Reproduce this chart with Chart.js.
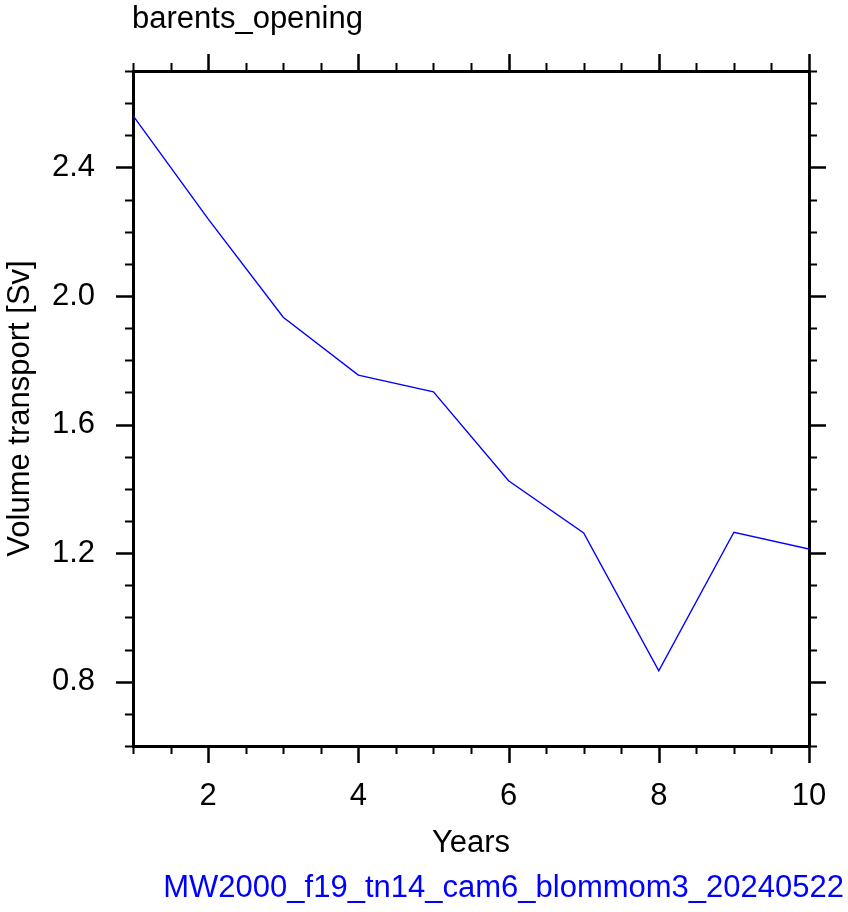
<!DOCTYPE html>
<html>
<head>
<meta charset="utf-8">
<script src="https://cdn.jsdelivr.net/npm/chart.js@4"></script>
<style>
html, body { margin: 0; padding: 0; background: #fff; }
</style>
</head>
<body>
<canvas id="chart" width="848" height="912"></canvas>
<script>
// data
const years = [1, 2, 3, 4, 5, 6, 7, 8, 9, 10];
const transport = [2.561, 2.24, 1.934, 1.754, 1.702, 1.425, 1.263, 0.834, 1.265, 1.213];

const xLabelTicks = [2, 4, 6, 8, 10];
const yLabelTicks = [0.8, 1.2, 1.6, 2.0, 2.4];
const xRange = [1, 10];
const yRange = [0.6, 2.7];
const xMinorStep = 0.5;
const yMinorStep = 0.1;

const titleText = 'barents_opening';
const caseText = 'MW2000_f19_tn14_cam6_blommom3_20240522';
const xTitle = 'Years';
const yTitle = 'Volume transport [Sv]';

const FONT = "'Liberation Sans', Arial, Helvetica, sans-serif";
const FSIZE = 31;

function steps(from, to, step) {
    const out = [];
    const n = Math.round((to - from) / step);
    for (let i = 0; i <= n; i++) out.push(+(from + i * step).toFixed(3));
    return out;
}

// outward tick marks on all four sides, placed through the scales
const tickMarks = {
    id: 'tickMarks',
    afterDraw(chart) {
        const ctx = chart.ctx;
        const { left, right, top, bottom } = chart.chartArea;
        const xs = chart.scales.x;
        const ys = chart.scales.y;
        ctx.save();
        ctx.strokeStyle = '#000';

        const drawX = (vals, len, w) => {
            ctx.lineWidth = w;
            vals.forEach(v => {
                const px = Math.round(xs.getPixelForValue(v)) + 0.5;
                ctx.beginPath();
                ctx.moveTo(px, bottom); ctx.lineTo(px, bottom + len);
                ctx.moveTo(px, top); ctx.lineTo(px, top - len);
                ctx.stroke();
            });
        };
        const drawY = (vals, len, w) => {
            ctx.lineWidth = w;
            vals.forEach(v => {
                const py = Math.round(ys.getPixelForValue(v)) + 0.5;
                ctx.beginPath();
                ctx.moveTo(left, py); ctx.lineTo(left - len, py);
                ctx.moveTo(right, py); ctx.lineTo(right + len, py);
                ctx.stroke();
            });
        };

        const xMinor = steps(xRange[0], xRange[1], xMinorStep).filter(v => !xLabelTicks.includes(v));
        const yMinor = steps(yRange[0], yRange[1], yMinorStep).filter(v => !yLabelTicks.some(m => Math.abs(m - v) < 1e-6));
        drawX(xMinor, 8, 2);
        drawX(xLabelTicks, 17, 2.5);
        drawY(yMinor, 8, 2);
        drawY(yLabelTicks, 17, 2.5);
        ctx.restore();
    }
};

const extraText = {
    id: 'extraText',
    afterDraw(chart) {
        const ctx = chart.ctx;
        ctx.save();
        ctx.font = FSIZE + 'px ' + FONT;
        ctx.textBaseline = 'alphabetic';
        ctx.fillStyle = '#000';
        ctx.textAlign = 'left';
        ctx.fillText(titleText, chart.chartArea.left - 1, 28);
        ctx.fillStyle = '#0000ff';
        ctx.textAlign = 'right';
        ctx.fillText(caseText, 844, 897);
        ctx.restore();
    }
};

const border = { display: true, color: '#000', width: 3 };

new Chart(document.getElementById('chart'), {
    type: 'line',
    data: {
        datasets: [{
            data: years.map((y, i) => ({ x: y, y: transport[i] })),
            borderColor: '#0000ff',
            borderWidth: 1.4,
            pointRadius: 0,
            tension: 0,
            fill: false
        }]
    },
    options: {
        responsive: false,
        animation: false,
        devicePixelRatio: 1,
        layout: { padding: 0 },
        plugins: {
            legend: { display: false },
            tooltip: { enabled: false },
            title: { display: false }
        },
        scales: {
            x: {
                type: 'linear',
                position: 'bottom',
                min: xRange[0],
                max: xRange[1],
                afterBuildTicks: s => { s.ticks = xLabelTicks.map(v => ({ value: v })); },
                afterFit: s => { s.height = 166; s.paddingLeft = 0; s.paddingRight = 0; },
                grid: { display: false, drawTicks: false },
                border: border,
                ticks: {
                    autoSkip: false,
                    maxRotation: 0,
                    padding: 32,
                    color: '#000',
                    font: { family: FONT, size: FSIZE },
                    callback: v => String(v)
                },
                title: {
                    display: true,
                    text: xTitle,
                    color: '#000',
                    font: { family: FONT, size: FSIZE },
                    padding: { top: 0, bottom: 50 }
                }
            },
            x2: {
                type: 'linear',
                position: 'top',
                min: xRange[0],
                max: xRange[1],
                afterFit: s => { s.height = 71; s.paddingLeft = 0; s.paddingRight = 0; },
                grid: { display: false, drawTicks: false },
                border: border,
                ticks: { display: false }
            },
            y: {
                type: 'linear',
                position: 'left',
                min: yRange[0],
                max: yRange[1],
                afterBuildTicks: s => { s.ticks = yLabelTicks.map(v => ({ value: v })); },
                afterFit: s => { s.width = 133; s.paddingTop = 0; s.paddingBottom = 0; },
                grid: { display: false, drawTicks: false },
                border: border,
                ticks: {
                    autoSkip: false,
                    padding: 38,
                    color: '#000',
                    font: { family: FONT, size: FSIZE },
                    callback: v => Number(v).toFixed(1)
                },
                title: {
                    display: true,
                    text: yTitle,
                    color: '#000',
                    font: { family: FONT, size: FSIZE },
                    padding: { top: 2, bottom: 0 }
                }
            },
            y2: {
                type: 'linear',
                position: 'right',
                min: yRange[0],
                max: yRange[1],
                afterFit: s => { s.width = 39; s.paddingTop = 0; s.paddingBottom = 0; },
                grid: { display: false, drawTicks: false },
                border: border,
                ticks: { display: false }
            }
        }
    },
    plugins: [tickMarks, extraText]
});
</script>
</body>
</html>
